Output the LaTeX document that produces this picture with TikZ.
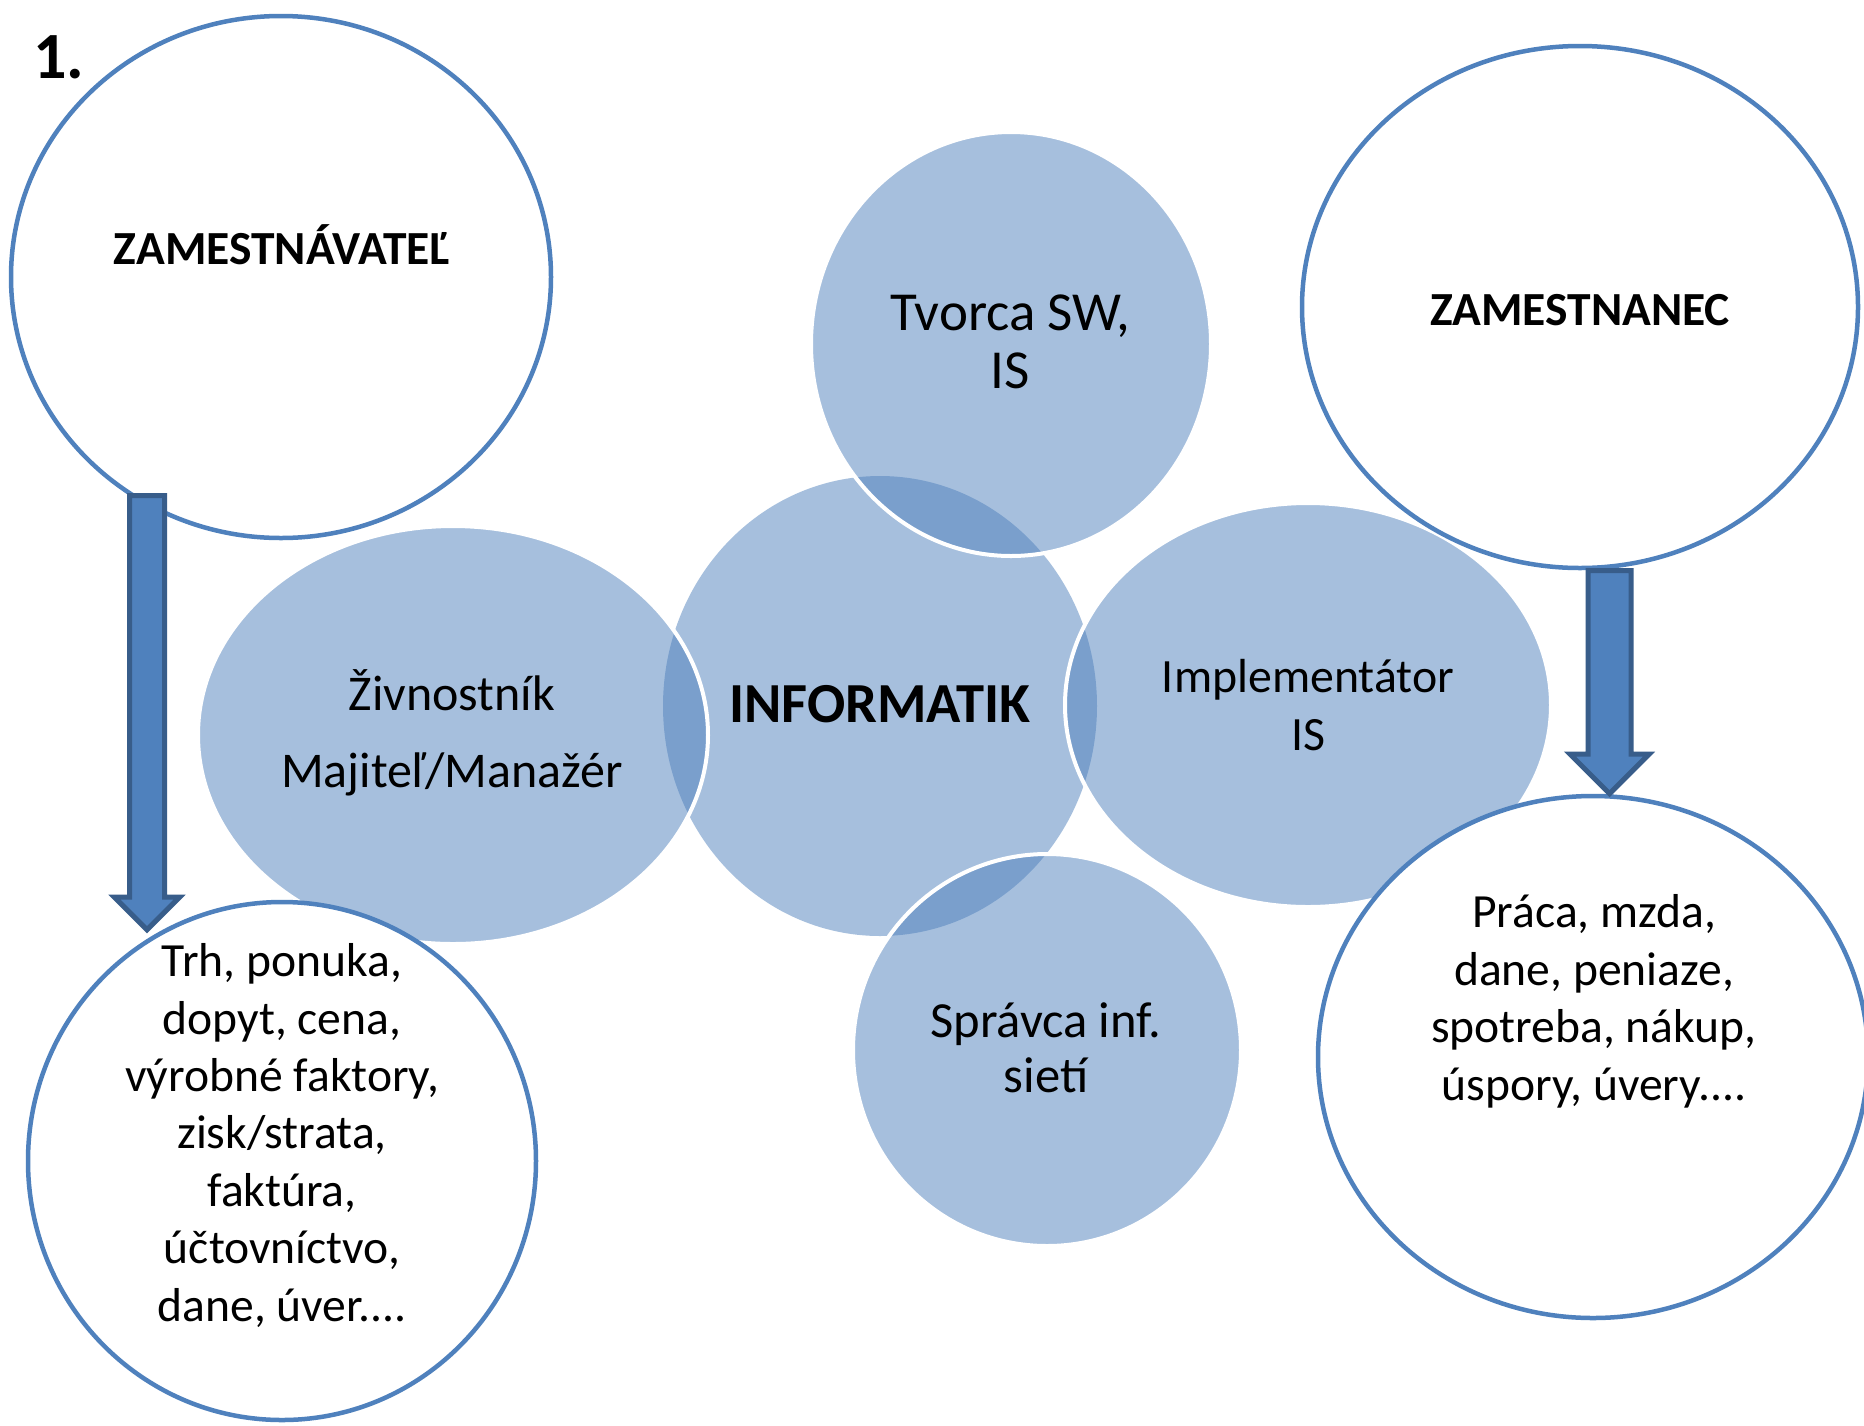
\documentclass[tikz,border=0pt]{standalone}
\usepackage{fontspec}
\setmainfont{Carlito}
\usetikzlibrary{shapes.geometric,shapes.arrows}
\definecolor{modra}{RGB}{79,129,189}
\definecolor{tmavomodra}{RGB}{56,93,138}
\tikzset{
  kruh/.style 2 args={ellipse,inner sep=0pt,minimum width=#1pt,minimum height=#2pt},
  svetly/.style={fill=modra,fill opacity=0.5,draw=white,draw opacity=1,line width=2pt},
  obrys/.style={fill=white,draw=modra,line width=2.25pt},
  sipka/.style={single arrow,draw=tmavomodra,fill=modra,line width=2.5pt,inner sep=0pt,
    text width=0pt,text depth=0pt,single arrow tip angle=90,rotate=-90,anchor=tip},
  popis/.style={align=center,anchor=base,inner sep=0pt},
  telo/.style={popis,font=\fontsize{23.8}{28.7}\selectfont},
}
\begin{document}
\begin{tikzpicture}[x=0.5pt,y=-0.5pt]
\useasboundingbox (0,0) rectangle (1864,1425);
\fill[white] (0,0) rectangle (1864,1425);
% stred
\node[kruh={217}{230},fill=modra,fill opacity=0.5] (informatik) at (880,706) {};
\node[kruh={200}{212},svetly] (tvorca) at (1011,344) {};
\node[kruh={243}{202},svetly] (implementator) at (1308,705) {};
\node[kruh={194}{196},svetly] (spravca) at (1047,1050) {};
\node[kruh={255}{209},svetly] (zivnostnik) at (453,735) {};
% vonkajsie kruhy
\node[kruh={270}{261},obrys] (zamestnavatel) at (281,277) {};
\node[kruh={254}{259},obrys] (trh) at (282,1161) {};
\node[kruh={278}{261},obrys] (zamestnanec) at (1580,307) {};
\node[kruh={275}{261},obrys] (praca) at (1593,1057) {};
% sipky
\node[sipka,minimum height=217pt,text height=15pt,single arrow head extend=7.5pt]
  (sipkaL) at ([shift={(-135,33.5)}]trh.north) {};
\node[sipka,minimum height=111.5pt,text height=19pt,single arrow head extend=9pt]
  (sipkaP) at ([shift={(16.5,3.5)}]praca.north) {};
% texty
\node[anchor=base west,inner sep=0pt,font=\bfseries\fontsize{33}{40}\selectfont] (cislo) at (33,78) {1.};
\node[popis,font=\bfseries\fontsize{23.75}{28}\selectfont] (t-zamestnavatel) at (282,264) {ZAMESTNÁVATEĽ};
\node[popis,font=\bfseries\fontsize{23.75}{28}\selectfont] (t-zamestnanec) at (1580,325) {ZAMESTNANEC};
\node[popis,font=\bfseries\fontsize{28.3}{34}\selectfont] (t-informatik) at (880,722) {INFORMATIK};
\node[popis,font=\fontsize{27.5}{29}\selectfont] (t-tvorca) at (1010,388) {Tvorca SW,\\IS};
\node[popis,font=\fontsize{23.9}{29}\selectfont] (t-implementator) at (1308,750) {Implementátor\\IS};
\node[popis,font=\fontsize{25.3}{27.5}\selectfont] (t-spravca) at (1046,1092) {Správca inf.\\sietí};
\node[popis,font=\fontsize{25}{38.5}\selectfont] (t-zivnostnik) at (452,787) {Živnostník\\Majiteľ/Manažér};
\node[telo] (t-trh) at (282,1321) {Trh, ponuka,\\dopyt, cena,\\výrobné faktory,\\zisk/strata,\\faktúra,\\účtovníctvo,\\dane, úver....};
\node[telo] (t-praca) at (1594,1100) {Práca, mzda,\\dane, peniaze,\\spotreba, nákup,\\úspory, úvery....};
\end{tikzpicture}
\end{document}
